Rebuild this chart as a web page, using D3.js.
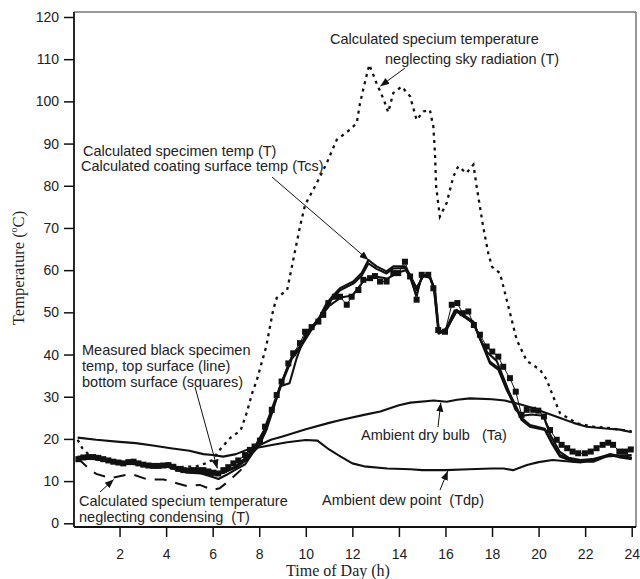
<!DOCTYPE html>
<html>
<head>
<meta charset="utf-8">
<script src="https://cdn.jsdelivr.net/npm/d3@7"></script>
<style>
  body { margin: 0; background: #fff; }
  text { font-family: "Liberation Sans", Arial, sans-serif; fill: #222; }
  .serif { font-family: "Liberation Serif", "Times New Roman", serif; }
</style>
</head>
<body>
<svg id="chart"></svg>
<script>
// ---- data (hour of day, temperature in °C) ----
const ambientDryBulb = [[0.2,20.3],[1,19.8],[2,19.3],[2.7,19],[3.5,18.4],[4.2,17.8],[5,17.2],[5.6,16.4],[6,16.2],[6.45,15.8],[7,16.4],[7.46,17.4],[8,18.5],[8.5,19.8],[9,20.6],[10,22.3],[11,23.8],[11.5,24.5],[12.5,25.7],[13.2,26.5],[14,28],[14.5,28.6],[15.5,29.1],[16.05,28.8],[16.5,29.3],[17.05,29.6],[18,29.4],[18.55,29.1],[19.2,28.2],[19.75,27.3],[20.3,26.2],[20.9,25],[21.5,23.8],[22.07,22.9],[23,22.4],[23.5,22.2],[24,21.6]];

const ambientDewPoint = [[0.2,15.4],[1,15.2],[2,14.5],[3,14],[4,13.5],[5,12.4],[6,11.5],[6.5,12],[7,13.5],[7.5,16],[7.8,17.8],[8.2,18.2],[8.6,18.6],[9.2,19.2],[10,19.75],[10.5,19.6],[11,17.5],[11.5,15.8],[12,14.2],[12.5,13.5],[13.5,13],[14.5,12.8],[15,12.6],[16,12.6],[17,12.8],[18,13],[18.5,13],[18.9,12.6],[19.5,13.8],[20,14.5],[20.6,15],[21.2,14.7],[21.8,14.4],[22.3,15],[22.8,15.8],[23.4,16],[24,16.2]];

const measuredTop = [[0.2,15.5],[1,15.3],[2,14.3],[3,13.8],[4,13.5],[4.5,12.6],[5,12],[5.5,11.8],[6,11],[6.25,10.5],[6.6,11.5],[7,12.8],[7.4,14],[7.7,16.5],[8,18.5],[8.3,22],[8.6,27],[8.9,32.5],[9.3,33.2],[9.6,39],[10,45],[10.5,48],[11,51.5],[11.5,53.5],[12,54],[12.5,57.5],[13,58.5],[13.5,58],[14,59.5],[14.3,60],[14.5,58],[14.75,54],[15,58.8],[15.3,58.8],[15.5,56],[15.7,45],[16,45.8],[16.4,50.5],[16.8,49],[17.2,47.5],[17.5,43.5],[17.8,40.5],[18.2,38.5],[18.6,33],[19,27],[19.3,25.5],[19.7,25.8],[20.2,25.5],[20.5,21],[20.9,17],[21.3,15.5],[21.8,15],[22.3,15.2],[23,16.2],[23.5,16],[24,15.5]];

const measuredBottom = [[0.23,15.2],[0.44,15.6],[0.66,15.7],[0.87,15.7],[1.09,15.5],[1.3,15.2],[1.52,14.9],[1.73,14.6],[1.95,14.4],[2.16,14.2],[2.38,14.5],[2.6,14.6],[2.81,14.2],[3.02,13.9],[3.24,13.7],[3.45,13.6],[3.67,13.6],[3.88,13.7],[4.1,13.8],[4.31,13.4],[4.52,12.9],[4.74,12.6],[4.95,12.5],[5.17,12.6],[5.38,12.6],[5.6,12.6],[5.81,12.3],[6.03,12],[6.24,11.8],[6.46,12.6],[6.67,13.3],[6.89,14.2],[7.1,14.9],[7.39,16.2],[7.6,17.4],[7.8,18.2],[8.03,19.6],[8.25,22.9],[8.54,26.9],[8.75,30.4],[8.96,33.6],[9.25,37.9],[9.46,40.3],[9.75,42.7],[9.97,45.4],[10.25,46.5],[10.54,47.8],[10.75,49.4],[10.97,52.2],[11.25,53.7],[11.47,53.7],[11.76,51.8],[11.97,53.7],[12.26,55.3],[12.47,57.7],[12.76,58.1],[12.97,58.6],[13.19,57.3],[13.47,57.3],[13.76,59.3],[13.97,59.3],[14.26,62],[14.48,58.5],[14.76,53],[14.98,58.9],[15.26,58.9],[15.48,55.7],[15.69,45.8],[15.98,45.4],[16.27,51.8],[16.51,52.2],[16.74,49.8],[16.98,50.2],[17.22,47],[17.48,44.7],[17.77,41.9],[18.01,40.7],[18.27,39.5],[18.48,37.1],[18.77,34.4],[19.02,31.2],[19.27,25.7],[19.49,26.9],[19.77,26.9],[19.99,26.7],[20.23,25.3],[20.49,22.1],[20.78,19.8],[20.99,18.6],[21.23,17.8],[21.46,17],[21.7,16.6],[21.99,16.6],[22.24,17],[22.49,17.8],[22.75,18.6],[22.99,19.1],[23.2,18.6],[23.47,17],[23.71,17],[23.96,17.5]];

const calcSpecimen = [[0.2,15.8],[1,15.5],[2,14.6],[3,14],[4,13.6],[5,12.3],[6,11.8],[6.5,12.3],[7,13.5],[7.5,15.5],[7.8,18],[8.2,22],[8.6,28],[9,34],[9.4,39.5],[9.75,41.9],[10.2,46],[10.6,49],[10.9,52.2],[11.1,53.5],[11.47,55.7],[12.04,57.3],[12.4,59.3],[12.69,62.4],[13.04,60.9],[13.47,59.7],[13.76,60.9],[14.26,60.9],[14.48,58.9],[14.76,55.3],[15.05,58.9],[15.33,58.5],[15.55,55.3],[15.72,45],[16.05,45.8],[16.48,50.6],[16.77,49.4],[17.2,47.8],[17.56,42.7],[17.91,37.9],[18.27,36.4],[18.63,31.6],[19.06,26.9],[19.27,24.5],[19.63,22.9],[20.27,22.1],[20.56,19],[20.92,15.8],[21.49,14.6],[22.35,14.6],[23.07,16.2],[23.5,15.6],[24,15.2]];

const calcCoating = [[0.2,15.6],[1,15.3],[2,14.4],[3,13.9],[4,13.5],[5,12.2],[6,11.6],[6.5,12.1],[7,13.2],[7.5,15.2],[7.8,17.6],[8.2,21.5],[8.6,27.5],[9,33.5],[9.4,39],[9.75,41.5],[10.2,45.5],[10.6,48.6],[10.9,51.6],[11.1,53],[11.47,55.2],[12.04,56.8],[12.4,58.7],[12.69,61.6],[13.04,60.3],[13.47,59.2],[13.76,60.4],[14.26,60.5],[14.48,58.6],[14.76,55.8],[15.05,58.6],[15.33,58.2],[15.55,55],[15.72,45.3],[16.05,46.2],[16.48,50.2],[16.77,49.1],[17.2,47.4],[17.56,42.9],[17.91,38.3],[18.27,36.8],[18.63,32.2],[19.06,27.4],[19.27,25],[19.63,23.3],[20.27,22.4],[20.56,19.4],[20.92,16.2],[21.49,14.9],[22.35,14.9],[23.07,16.4],[23.5,15.9],[24,15.5]];

const noSkyRadiation = [[0.2,19.8],[0.4,17.8],[0.8,15.6],[1.5,15],[2.5,14.3],[3.5,13.8],[4.5,13.3],[5.3,13.5],[5.7,14.2],[6,15],[6.3,17.4],[6.75,20.2],[7.2,22],[7.45,26],[7.7,30.9],[7.9,34],[8.3,41.9],[8.6,50.6],[8.75,53.4],[9.2,55.3],[9.46,62.4],[9.75,70.3],[9.97,75.5],[10.47,80.6],[10.9,85.4],[11.33,90.9],[11.9,93.3],[12.19,94.9],[12.33,99.6],[12.6,105.9],[12.73,108.7],[13.04,104.3],[13.35,100.4],[13.54,97.4],[13.76,102],[14.12,103.5],[14.48,101.2],[14.76,95.6],[15.05,97.6],[15.33,98],[15.48,94],[15.55,87.7],[15.6,79.8],[15.76,72.7],[16.05,75.9],[16.34,82.2],[16.55,84.6],[16.9,83],[17.2,85],[17.34,79.8],[17.62,70.3],[17.84,64],[18,60.8],[18.34,59.3],[18.63,53],[19.06,43.5],[19.49,38.5],[20.06,36.4],[20.35,34],[20.63,30],[20.92,26.1],[21.64,23.7],[22.35,22.9],[23,22.6],[24,21.8]];

const noCondensing = [[0.2,15.2],[0.37,14.6],[0.7,12.8],[1,11.7],[1.6,10.7],[2.3,11.5],[2.6,11.5],[3.2,10.4],[3.9,10.4],[4.45,9.5],[4.9,8.8],[5.45,9.1],[6,7.9],[6.3,8.3],[6.75,10.3],[7.2,12.6],[7.5,15.5],[7.8,18],[8.2,21.5]];

const xTicks = [2, 4, 6, 8, 10, 12, 14, 16, 18, 20, 22, 24];
const yTicks = [0, 10, 20, 30, 40, 50, 60, 70, 80, 90, 100, 110, 120];

// ---- layout ----
const width = 640, height = 579;
const box = { left: 74, right: 636, top: 12, bottom: 527 };

const svg = d3.select('#chart').attr('width', width).attr('height', height);

const x = d3.scaleLinear().domain([0, 24]).range([73, 631.7]);
const y = d3.scaleLinear().domain([0, 120]).range([523.3, 17]);

const line = d3.line().x(d => x(d[0])).y(d => y(d[1]));

// frame
svg.append('line').attr('x1', box.left).attr('x2', box.right).attr('y1', box.top).attr('y2', box.top)
  .attr('stroke', '#333').attr('stroke-width', 1.2);
svg.append('line').attr('x1', box.right).attr('x2', box.right).attr('y1', box.top).attr('y2', box.bottom)
  .attr('stroke', '#777').attr('stroke-width', 1.5);

// axes
const yAxis = svg.append('g').attr('transform', `translate(${box.left},0)`)
  .call(d3.axisLeft(y).tickValues(yTicks).tickSize(10).tickPadding(5));
const xAxis = svg.append('g').attr('transform', `translate(0,${box.bottom})`)
  .call(d3.axisBottom(x).tickValues(xTicks).tickSize(10).tickPadding(12));
[yAxis, xAxis].forEach(g => {
  g.select('.domain').remove();
  g.selectAll('.tick line').attr('stroke', '#111').attr('stroke-width', 1.5);
  g.selectAll('.tick text').attr('font-size', 14).attr('font-family', '"Liberation Sans", Arial, sans-serif').attr('fill', '#222');
});
svg.append('line').attr('x1', box.left).attr('x2', box.left).attr('y1', box.top).attr('y2', box.bottom)
  .attr('stroke', '#111').attr('stroke-width', 1.8);
svg.append('line').attr('x1', box.left).attr('x2', box.right).attr('y1', box.bottom).attr('y2', box.bottom)
  .attr('stroke', '#111').attr('stroke-width', 1.8);

// axis titles
svg.append('text').attr('class', 'serif').attr('x', 338).attr('y', 576)
  .attr('text-anchor', 'middle').attr('font-size', 16).text('Time of Day (h)');
const yTitle = svg.append('text').attr('class', 'serif')
  .attr('transform', 'translate(24,268) rotate(-90)')
  .attr('text-anchor', 'middle').attr('font-size', 16.5);
yTitle.append('tspan').text('Temperature (');
yTitle.append('tspan').attr('font-size', 10).attr('dy', -7).text('o');
yTitle.append('tspan').attr('dy', 7).text('C)');

// series
const plot = svg.append('g');
plot.append('path').datum(noSkyRadiation).attr('d', line)
  .attr('fill', 'none').attr('stroke', '#111').attr('stroke-width', 2.3).attr('stroke-dasharray', '3,4.5');
plot.append('path').datum(noCondensing).attr('d', line)
  .attr('fill', 'none').attr('stroke', '#111').attr('stroke-width', 2).attr('stroke-dasharray', '12,9');
[ambientDryBulb, ambientDewPoint, measuredTop, calcSpecimen, calcCoating].forEach(s => {
  plot.append('path').datum(s).attr('d', line)
    .attr('fill', 'none').attr('stroke', '#111').attr('stroke-width', 2.1).attr('stroke-linejoin', 'round');
});
plot.append('path').datum(measuredBottom).attr('d', line)
  .attr('fill', 'none').attr('stroke', '#111').attr('stroke-width', 1);
plot.selectAll('rect.sq').data(measuredBottom).join('rect').attr('class', 'sq')
  .attr('x', d => x(d[0]) - 3).attr('y', d => y(d[1]) - 3)
  .attr('width', 6).attr('height', 6).attr('fill', '#111');

// annotations
svg.append('defs').append('marker').attr('id', 'arrow')
  .attr('viewBox', '0 0 10 10').attr('refX', 10).attr('refY', 5)
  .attr('markerWidth', 9).attr('markerHeight', 9).attr('markerUnits', 'userSpaceOnUse')
  .attr('orient', 'auto')
  .append('path').attr('d', 'M0,1 L10,5 L0,9 Z').attr('fill', '#111');

const notes = [
  { x: 330, y: 44, lines: ['Calculated specium temperature'] },
  { x: 385, y: 64, lines: ['neglecting sky radiation (T)'] },
  { x: 83, y: 156, lines: ['Calculated specimen temp (T)'] },
  { x: 81, y: 171, lines: ['Calculated coating surface temp (Tcs)'] },
  { x: 82, y: 355, lines: ['Measured black specimen', 'temp, top surface (line)', 'bottom surface (squares)'] },
  { x: 79, y: 506, lines: ['Calculated specium temperature', 'neglecting condensing  (T)'] },
  { x: 361, y: 440, lines: ['Ambient dry bulb   (Ta)'] },
  { x: 322, y: 505, lines: ['Ambient dew point  (Tdp)'] }
];
notes.forEach(n => {
  const t = svg.append('text').attr('font-size', 14.5).attr('xml:space', 'preserve')
    .style('white-space', 'pre');
  n.lines.forEach((s, i) => t.append('tspan').attr('x', n.x).attr('y', n.y + i * 16).text(s));
});

const arrows = [
  { from: [405, 68], to: [x(13.2), y(103.6)] },
  { from: [272, 177], to: [x(12.69), y(62.4)] },
  { from: [195, 387], to: [x(6.2), y(13)] },
  { from: [100, 492], to: [x(1.75), y(10.4)] },
  { from: [438, 427], to: [x(15.8), y(28.6)] },
  { from: [440, 490], to: [x(16.1), y(12.4)] }
];
arrows.forEach(a => {
  svg.append('line').attr('x1', a.from[0]).attr('y1', a.from[1])
    .attr('x2', a.to[0]).attr('y2', a.to[1])
    .attr('stroke', '#111').attr('stroke-width', 1).attr('marker-end', 'url(#arrow)');
});
</script>
</body>
</html>
